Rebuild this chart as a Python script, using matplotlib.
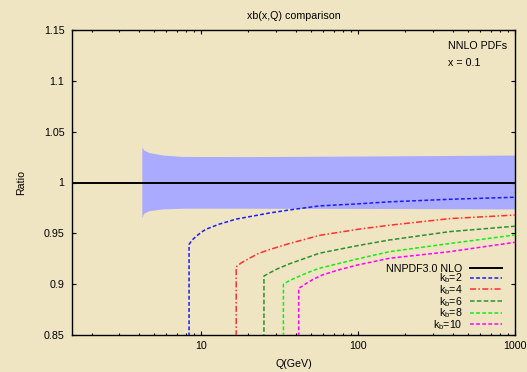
import matplotlib
matplotlib.use("Agg")
import matplotlib.pyplot as plt
from matplotlib.ticker import LogLocator, FixedLocator, FuncFormatter, NullFormatter

plt.rcParams['font.family'] = ['Liberation Sans', 'DejaVu Sans']
plt.rcParams['mathtext.fontset'] = 'custom'
plt.rcParams['mathtext.rm'] = 'Liberation Sans'
plt.rcParams['mathtext.it'] = 'Liberation Sans:italic'
plt.rcParams['mathtext.default'] = 'regular'

FS = 7.7
BG = '#efe5c3'

# NNPDF3.0 NLO uncertainty band (ratio to central value)
band_q = [4.18, 4.3, 4.65, 5.66, 7.6, 20.0, 100.0, 1000.0]
band_up = [1.035, 1.032, 1.0294, 1.0271, 1.0256, 1.0255, 1.026, 1.027]
band_lo = [0.9655, 0.9698, 0.9723, 0.974, 0.9747, 0.9747, 0.9745, 0.974]

# central reference line
ref_q = [1.5, 1000.0]
ref_v = [1.0, 1.0]

# ratios for different b-quark matching scales k_b
kb2_q = [8.36, 8.36, 8.7, 9.26, 10.0, 10.7, 13.0, 16.7, 27.2, 36.5, 56.8, 100.0, 159.0, 385.0, 1000.0]
kb2_v = [0.80, 0.939, 0.943, 0.947, 0.951, 0.954, 0.959, 0.964, 0.970, 0.973, 0.977, 0.979, 0.981, 0.9835, 0.9855]

kb4_q = [16.7, 16.7, 18.0, 20.3, 23.0, 27.2, 36.5, 56.8, 100.0, 159.0, 385.0, 1000.0]
kb4_v = [0.80, 0.917, 0.921, 0.9255, 0.930, 0.934, 0.940, 0.948, 0.954, 0.958, 0.9645, 0.968]

kb6_q = [25.1, 25.1, 27.2, 30.5, 36.5, 45.0, 56.8, 100.0, 159.0, 385.0, 1000.0]
kb6_v = [0.80, 0.908, 0.911, 0.915, 0.920, 0.925, 0.9305, 0.938, 0.9435, 0.9517, 0.957]

kb8_q = [33.4, 33.4, 36.5, 41.0, 47.0, 56.8, 100.0, 159.0, 385.0, 1000.0]
kb8_v = [0.80, 0.900, 0.9035, 0.907, 0.911, 0.9157, 0.925, 0.932, 0.940, 0.9484]

kb10_q = [41.8, 41.8, 44.0, 47.0, 52.0, 59.0, 75.0, 100.0, 159.0, 385.0, 1000.0]
kb10_v = [0.80, 0.896, 0.898, 0.901, 0.905, 0.909, 0.914, 0.919, 0.9255, 0.932, 0.9412]

labels = ['NNPDF3.0 NLO', 'k$_{b}$=2', 'k$_{b}$=4', 'k$_{b}$=6', 'k$_{b}$=8', 'k$_{b}$=10']
colors = ['black', '#1a1aff', '#ff3030', '#2f8f2f', '#11ee11', '#ff00ff']

x_ticks = [10, 100, 1000]
y_ticks = [0.85, 0.9, 0.95, 1.0, 1.05, 1.1, 1.15]

fig = plt.figure(figsize=(5.27, 3.72), dpi=100, facecolor=BG)
ax = fig.add_axes([72 / 527, 37 / 372, 443 / 527, 305 / 372])
ax.set_facecolor('none')

ax.fill_between(band_q, band_lo, band_up, color='#aaaaff', lw=0, zorder=1)

ln_ref, = ax.plot(ref_q, ref_v, color=colors[0], lw=1.4, zorder=5)
series = [(kb2_q, kb2_v, (2.5, 1.5)),
          (kb4_q, kb4_v, (4.0, 1.5, 1.0, 1.5)),
          (kb6_q, kb6_v, (3.0, 1.5)),
          (kb8_q, kb8_v, (2.5, 1.5)),
          (kb10_q, kb10_v, (2.5, 1.5))]
handles = [ln_ref]
for (q, v, dash), c in zip(series, colors[1:]):
    ln, = ax.plot(q, v, color=c, lw=1.1, dashes=dash, zorder=4)
    handles.append(ln)

ax.set_xscale('log')
ax.set_xlim(1.5, 1000)
ax.set_ylim(0.85, 1.15)
ax.xaxis.set_major_locator(FixedLocator(x_ticks))
ax.xaxis.set_major_formatter(FuncFormatter(lambda v, p: '%d' % v))
ax.xaxis.set_minor_locator(LogLocator(base=10, subs=range(2, 10)))
ax.xaxis.set_minor_formatter(NullFormatter())
ax.yaxis.set_major_locator(FixedLocator(y_ticks))
ax.yaxis.set_major_formatter(FuncFormatter(lambda v, p: ('%.2f' % v).rstrip('0').rstrip('.')))

ax.tick_params(which='both', direction='in', top=True, right=True, labelsize=FS, width=0.8, color='black')
ax.tick_params(which='major', length=3.2, pad=4)
ax.tick_params(axis='y', which='major', pad=5.5)
ax.tick_params(which='minor', length=1.6)
for s in ax.spines.values():
    s.set_linewidth(1.0)

ax.set_title('xb(x,Q) comparison', fontsize=FS, pad=8)
ax.set_xlabel('Q(GeV)', fontsize=FS, labelpad=6)
ax.set_ylabel('Ratio', fontsize=FS)
ax.yaxis.set_label_coords(-0.104, 0.5)

ax.text(0.849, 0.9475, 'NNLO PDFs', transform=ax.transAxes, fontsize=FS, ha='left', va='center')
ax.text(0.849, 0.893, 'x = 0.1', transform=ax.transAxes, fontsize=FS, ha='left', va='center')

ax.legend(handles, labels, loc='lower right', bbox_to_anchor=(0.9707, 0.01), frameon=False,
          markerfirst=False, fontsize=FS, handlelength=3.0, handletextpad=0.7,
          labelspacing=-0.2, borderpad=0, borderaxespad=0)

fig.savefig('out.png', dpi=100, facecolor=BG)
